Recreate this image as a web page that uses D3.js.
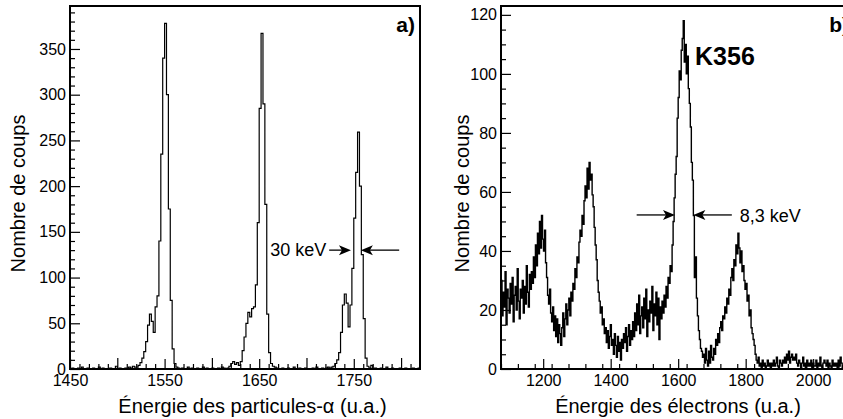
<!DOCTYPE html>
<html>
<head>
<meta charset="utf-8">
<script src="https://cdn.jsdelivr.net/npm/d3@7"></script>
<style>
  body { margin: 0; background: #fff; }
  svg { display: block; font-family: "Liberation Sans", Arial, Helvetica, sans-serif; }
</style>
</head>
<body>
<script>
// panel a) : alpha spectrum, bins of 2 u.a. starting at 1450
const alphaStart = 1450, alphaBin = 2;
const alphaCounts = [
  0,1,0,0,1,0,2,0,0,1, 0,0,1,0,0,2,0,1,0,0, 0,1,0,0,3,0,1,0,0,1,
  1,2,1,3,2,
  2,4,7,12,19,30,48,60,52,40,68,80,140,235,340,378,300,175,75,22,6,2,1,
  0,1,0,0,2,0,1,0,0,1,0,0,2,0,1,0,0,1,0,0,1,0,2,1,0,
  1,3,6,8,5,7,4,8,20,35,50,62,57,66,68,92,160,285,367,290,180,60,18,6,3,2,1,0,
  0,1,0,0,1,0,0,2,0,0,1,0,0,1,0,0,0,1,0,2,0,0,1,0,1,2,
  1,2,3,6,10,18,40,70,82,72,46,70,110,165,215,259,200,125,55,12,3,1,
  4,0,1,0,0,1,0,0,2,0,0,1,0,0,0,1,0,0,1,0,0,0,1,0,0,1
];

// panel b) : electron spectrum, bins of 3 u.a. starting at 1075
const elecStart = 1075, elecBin = 3;
const elecCounts = [
  30,18,26,21,33,15,27,24,19,29,
  22,31,16,25,28,20,34,23,17,27,
  24,30,19,28,22,35,26,21,32,27,
  33,29,38,31,42,35,46,39,50,41,
  52,44,40,47,36,31,25,22,27,19,
  16,21,13,18,11,17,9,15,12,8,
  14,19,11,17,22,15,20,24,18,26,
  23,29,27,34,31,38,36,43,47,45,
  52,49,57,62,58,68,61,70,64,66,
  59,55,48,42,37,30,26,23,19,21,
  15,17,12,14,9,13,7,11,15,8,
  10,5,12,8,4,11,6,9,3,10,
  7,12,9,14,6,11,15,8,13,10,
  16,11,19,13,22,15,25,12,18,21,
  14,24,17,27,11,20,16,23,19,28,
  13,22,18,26,15,24,10,21,17,23,
  19,25,21,28,24,31,29,35,33,42,
  50,58,66,72,85,92,101,98,108,112,
  118,104,110,100,106,95,90,82,70,64,
  52,31,38,24,18,13,10,7,6,4,
  5,2,7,3,1,6,2,8,4,3,
  7,5,10,8,12,9,14,16,13,18,
  17,21,19,24,22,27,25,31,34,30,
  37,35,42,39,46,41,36,40,33,35,
  30,27,29,23,25,18,20,14,12,10,
  8,5,3,2,4,1,2,0,3,1,
  2,0,1,3,1,2,0,2,1,3,
  1,2,4,1,0,3,2,1,3,2,
  4,2,5,3,6,2,4,5,3,4,
  3,5,2,1,3,2,0,2,4,1,
  2,0,3,1,2,1,3,0,2,1,
  1,3,0,2,1,4,1,0,2,3,
  2,1,3,0,2,1,0,3,1,2,
  1,2,0,3,1,4,2,0,1,2,
  0,1,2,1,0,2,1,3,0,1
];

// tick labels
const alphaXTicks = [1450, 1550, 1650, 1750];
const alphaYTicks = [0, 50, 100, 150, 200, 250, 300, 350];
const elecXTicks = [1200, 1400, 1600, 1800, 2000];
const elecYTicks = [0, 20, 40, 60, 80, 100, 120];

const width = 843, height = 419;

const svg = d3.select("body").append("svg")
  .attr("width", width)
  .attr("height", height);

function arrow(g, x1, y1, x2, y2) {
  // line from (x1,y1) with filled head at (x2,y2)
  const dir = Math.sign(x2 - x1);
  g.append("line")
    .attr("x1", x1).attr("y1", y1)
    .attr("x2", x2 - dir * 8).attr("y2", y2)
    .attr("stroke", "#000").attr("stroke-width", 1.3);
  g.append("path")
    .attr("d", `M${x2},${y2} L${x2 - dir * 12},${y2 - 5} L${x2 - dir * 9},${y2} L${x2 - dir * 12},${y2 + 5} Z`)
    .attr("fill", "#000");
}

function drawPanel(p) {
  const x = d3.scaleLinear().domain(p.xDomain).range([p.left, p.right]);
  const y = d3.scaleLinear().domain(p.yDomain).range([p.bottom, p.top]);
  const g = svg.append("g");

  const clipId = "clip-" + p.id;
  svg.append("clipPath").attr("id", clipId)
    .append("rect")
    .attr("x", p.left).attr("y", p.top)
    .attr("width", p.right - p.left).attr("height", p.bottom - p.top);

  // histogram as steps
  const pts = p.counts.map((c, i) => [p.start + i * p.bin, c]);
  pts.push([p.start + p.counts.length * p.bin, p.counts[p.counts.length - 1]]);
  const line = d3.line()
    .x(d => x(d[0]))
    .y(d => y(d[1]))
    .curve(d3.curveStepAfter);
  g.append("path")
    .datum(pts)
    .attr("clip-path", `url(#${clipId})`)
    .attr("fill", "none")
    .attr("stroke", "#000")
    .attr("stroke-width", p.lineWidth)
    .attr("d", line);

  // minor ticks
  const xMinor = d3.range(p.xDomain[0], p.xDomain[1], p.xMinorStep)
    .filter(v => !p.xTicks.includes(v));
  const yMinor = d3.range(p.yDomain[0], p.yDomain[1], p.yMinorStep)
    .filter(v => !p.yTicks.includes(v));

  g.append("g")
    .attr("transform", `translate(0,${p.bottom})`)
    .call(d3.axisBottom(x).tickValues(xMinor).tickSize(-5).tickFormat(""))
    .call(a => a.select(".domain").remove())
    .call(a => a.selectAll(".tick")
      .filter(v => p.xMidStep && Math.abs(v % p.xMidStep) < 1e-6)
      .select("line").attr("y2", -p.xMidLen));

  g.append("g")
    .attr("transform", `translate(${p.left},0)`)
    .call(d3.axisLeft(y).tickValues(yMinor).tickSize(-5).tickFormat(""))
    .call(a => a.select(".domain").remove());

  // major ticks + labels
  const xa = g.append("g")
    .attr("transform", `translate(0,${p.bottom})`)
    .call(d3.axisBottom(x).tickValues(p.xTicks).tickSize(-10).tickPadding(6).tickFormat(d3.format("d")));
  const ya = g.append("g")
    .attr("transform", `translate(${p.left},0)`)
    .call(d3.axisLeft(y).tickValues(p.yTicks).tickSize(-10).tickPadding(4).tickFormat(d3.format("d")));
  [xa, ya].forEach(a => {
    a.select(".domain").remove();
    a.selectAll("text").attr("font-size", 16).attr("fill", "#000")
      .attr("font-family", "'Liberation Sans', Arial, sans-serif");
  });
  g.selectAll(".tick line").attr("stroke", "#000").attr("stroke-width", 1.2);

  // frame
  g.append("rect")
    .attr("x", p.left).attr("y", p.top)
    .attr("width", p.right - p.left).attr("height", p.bottom - p.top)
    .attr("fill", "none").attr("stroke", "#000").attr("stroke-width", 2);

  // axis titles
  g.append("text")
    .attr("x", (p.left + p.xTitleRight) / 2)
    .attr("y", 413)
    .attr("text-anchor", "middle")
    .attr("font-size", 20)
    .text(p.xTitle);
  g.append("text")
    .attr("transform", `translate(${p.yTitleX},${(p.top + p.bottom) / 2 + 6}) rotate(-90)`)
    .attr("text-anchor", "middle")
    .attr("font-size", 20)
    .text("Nombre de coups");

  // panel tag
  g.append("text")
    .attr("x", p.right - 5).attr("y", 32)
    .attr("text-anchor", "end")
    .attr("font-size", 21).attr("font-weight", "bold")
    .text(p.tag);

  return { g, x, y };
}

// panel a)
const A = drawPanel({
  id: "a", left: 70, right: 420, top: 6, bottom: 369,
  xDomain: [1450, 1820], yDomain: [0, 397],
  counts: alphaCounts, start: alphaStart, bin: alphaBin, lineWidth: 1.2,
  xTicks: alphaXTicks, xMinorStep: 10, xMidStep: 50, xMidLen: 11,
  yTicks: alphaYTicks, yMinorStep: 10,
  xTitle: "Énergie des particules-α (u.a.)", xTitleRight: 435,
  yTitleX: 25, tag: "a)"
});

// FWHM marker, panel a)
const fwhmA = { level: 130, left: [1724, 1747], right: [1798, 1757.5] };
arrow(A.g, A.x(fwhmA.left[0]), A.y(fwhmA.level), A.x(fwhmA.left[1]), A.y(fwhmA.level));
arrow(A.g, A.x(fwhmA.right[0]), A.y(fwhmA.level), A.x(fwhmA.right[1]), A.y(fwhmA.level));
A.g.append("text")
  .attr("x", A.x(fwhmA.left[0]) - 3)
  .attr("y", A.y(fwhmA.level) + 6)
  .attr("text-anchor", "end")
  .attr("font-size", 18)
  .text("30 keV");

// panel b)
const B = drawPanel({
  id: "b", left: 501, right: 854, top: 6, bottom: 369,
  xDomain: [1075, 2121], yDomain: [0, 123],
  counts: elecCounts, start: elecStart, bin: elecBin, lineWidth: 1.4,
  xTicks: elecXTicks, xMinorStep: 50, xMidStep: 0, xMidLen: 0,
  yTicks: elecYTicks, yMinorStep: 5,
  xTitle: "Énergie des électrons (u.a.)", xTitleRight: 855,
  yTitleX: 469, tag: "b)"
});

// FWHM marker, panel b)
const fwhmB = { level: 52.2, left: [1477, 1590.5], right: [1759, 1645] };
arrow(B.g, B.x(fwhmB.left[0]), B.y(fwhmB.level), B.x(fwhmB.left[1]), B.y(fwhmB.level));
arrow(B.g, B.x(fwhmB.right[0]), B.y(fwhmB.level), B.x(fwhmB.right[1]), B.y(fwhmB.level));
B.g.append("text")
  .attr("x", B.x(fwhmB.right[0]) + 8)
  .attr("y", B.y(fwhmB.level) + 7)
  .attr("font-size", 18)
  .text("8,3 keV");

B.g.append("text")
  .attr("x", B.x(1650)).attr("y", B.y(103))
  .attr("font-size", 25).attr("font-weight", "bold")
  .text("K356");
</script>
</body>
</html>
